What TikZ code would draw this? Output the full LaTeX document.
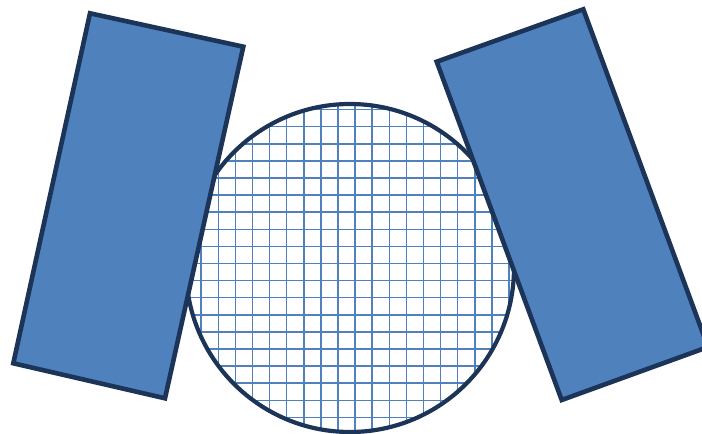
\documentclass[tikz,border=0pt]{standalone}
\usetikzlibrary{calc}

\definecolor{plateblue}{RGB}{79,129,189}
\definecolor{navyedge}{RGB}{28,52,88}

\begin{document}
\begin{tikzpicture}[
	x=1pt, y=-1pt,
	plate/.style={draw=navyedge, fill=plateblue, line width=4.6pt, line join=miter},
	meshline/.style={draw=plateblue, line width=1.5pt},
	rim/.style={draw=navyedge, line width=4.2pt}
]
\useasboundingbox (0,0) rectangle (702,434);

% Meshed disc between the two plates.
\coordinate (centre) at (350,268);
\begin{scope}
	\clip (centre) circle[radius=164];
	\foreach \i in {0,...,40} {
		\draw[meshline] ({13.1+17.1*\i},0) -- ({13.1+17.1*\i},434);
	}
	\foreach \i in {0,...,25} {
		\draw[meshline] (0,{7.0+17.1*\i}) -- (702,{7.0+17.1*\i});
	}
\end{scope}
\draw[rim] (centre) circle[radius=164];

% Tilted plates.
\draw[plate] (90,13.3) -- (243.3,46.7) -- (165,398.3) -- (13.3,363.3) -- cycle;
\draw[plate] (436.7,61.7) -- (583.3,9.3) -- (708,347) -- (561.7,400) -- cycle;

\end{tikzpicture}
\end{document}
